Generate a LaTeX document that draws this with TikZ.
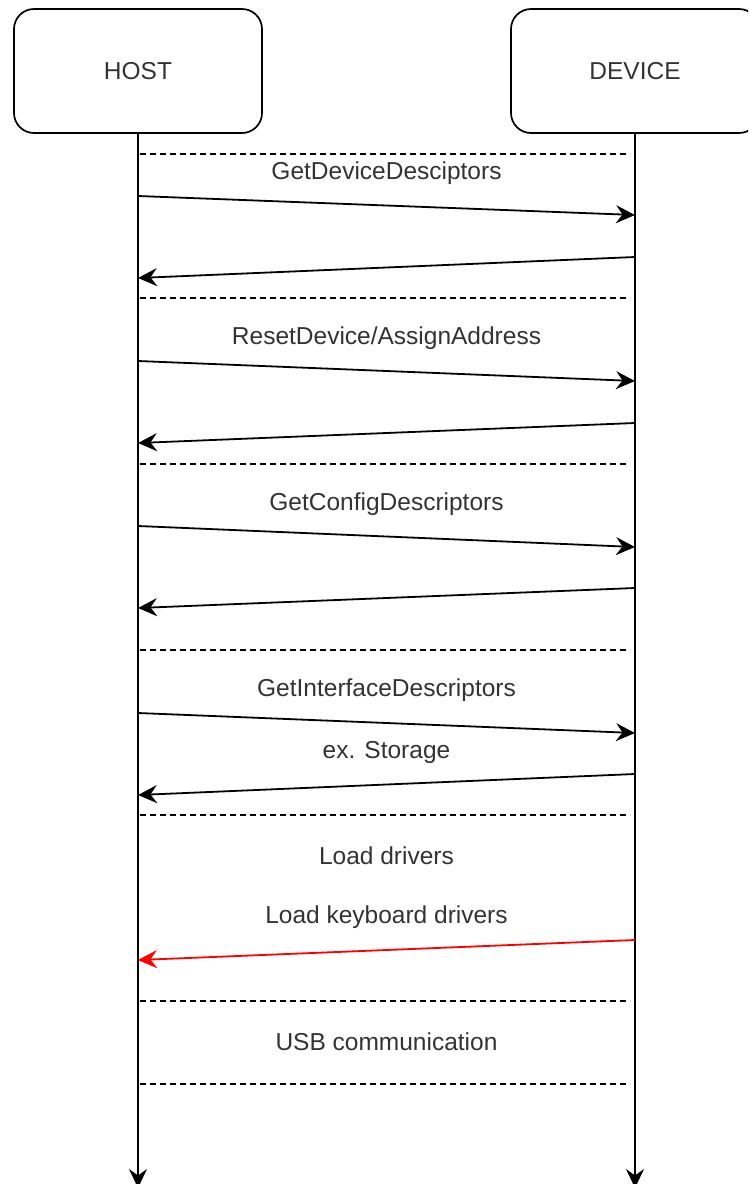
\documentclass[tikz,border=0pt]{standalone}
\usepackage{fontspec}
\setmainfont{Liberation Sans}
\usetikzlibrary{arrows.meta}
\definecolor{txtgray}{HTML}{333333}
\begin{document}
\begin{tikzpicture}[x=1pt,y=-1pt,
  actor/.style={draw, line width=1.7pt, rounded corners=20pt, minimum width=248pt, minimum height=124pt, inner sep=0pt, font=\fontsize{24.5}{28}\selectfont, text=txtgray},
  tip/.style={-{Stealth[length=19pt,width=18pt,inset=6.5pt]}},
  msg/.style={line width=1.8pt, tip},
  redmsg/.style={msg, draw=red, color=red},
  life/.style={line width=1.8pt, tip},
  sep/.style={line width=1.3pt, dash pattern=on 6pt off 4pt},
  lbl/.style={font=\fontsize{24.5}{28}\selectfont, text=txtgray, inner sep=0pt}
]
\path[use as bounding box] (0,0) rectangle (748,1184);
\clip (0,0) rectangle (748,1184);

\node[actor] (host) at (138,71) {HOST};
\node[actor] (device) at (635,71) {DEVICE};

\coordinate (hostEnd) at (138,1188);
\coordinate (devEnd) at (635,1188);
\draw[life] (host.south) -- (hostEnd);
\draw[life] (device.south) -- (devEnd);

% separators
\foreach \y [count=\i] in {154,298,464,650,815,1001,1084} {
  \coordinate (sl\i) at (140,\y);
  \coordinate (sr\i) at (630,\y);
  \draw[sep] (sl\i) -- (sr\i);
}

% message end points
\coordinate (h1) at (138,196); \coordinate (d1) at (635,215);
\coordinate (d2) at (635,257); \coordinate (h2) at (138,278);
\coordinate (h3) at (138,361); \coordinate (d3) at (635,381);
\coordinate (d4) at (635,423); \coordinate (h4) at (138,443);
\coordinate (h5) at (138,526); \coordinate (d5) at (635,547);
\coordinate (d6) at (635,588); \coordinate (h6) at (138,608);
\coordinate (h7) at (138,713); \coordinate (d7) at (635,733);
\coordinate (d8) at (635,774); \coordinate (h8) at (138,795);
\coordinate (d9) at (635,940); \coordinate (h9) at (138,960);

\draw[msg] (h1) -- (d1);
\draw[msg] (d2) -- (h2);
\draw[msg] (h3) -- (d3);
\draw[msg] (d4) -- (h4);
\draw[msg] (h5) -- (d5);
\draw[msg] (d6) -- (h6);
\draw[msg] (h7) -- (d7);
\draw[msg] (d8) -- (h8);
\draw[redmsg] (d9) -- (h9);

% labels
\node[lbl] (l1) at (386.5,173) {GetDeviceDesciptors};
\node[lbl] (l2) at (386.5,338) {ResetDevice/AssignAddress};
\node[lbl] (l3) at (386.5,504) {GetConfigDescriptors};
\node[lbl] (l4) at (386.5,690) {GetInterfaceDescriptors};
\node[lbl] (l5) at (386.5,752) {ex. Storage};
\node[lbl] (l6) at (386.5,856) {Load drivers};
\node[lbl] (l7) at (386.5,917) {Load keyboard drivers};
\node[lbl] (l8) at (386.5,1042) {USB communication};
\end{tikzpicture}
\end{document}
